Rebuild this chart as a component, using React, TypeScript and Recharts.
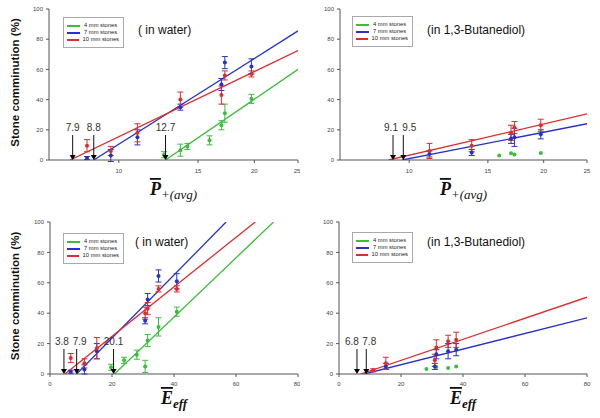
import React from 'react';
import { ComposedChart, XAxis, YAxis, Line, Scatter, ErrorBar, Legend } from 'recharts';

const SIZES = ['4 mm stones', '7 mm stones', '10 mm stones'];
const COLORS = ['#3cbd3c', '#2632c8', '#dd2c2c'];
const FONT = 'Liberation Sans, Arial, sans-serif';
const Y_TICKS = [0, 20, 40, 60, 80, 100];
const P_TICKS = [10, 15, 20, 25];
const E_TICKS = [0, 20, 40, 60, 80];

// P+(avg), in water
const pWaterX4 = [12.6, 13.7, 14.2, 15.9, 16.9, 17.2, 19.7];
const pWaterY4 = [3.5, 6.5, 9, 13, 23, 31, 40.5];
const pWaterE4 = [2, 4, 2, 3, 3, 6, 3];
const pWaterX = [8.5, 9.6, 11.0, 13.7, 16.9, 17.2, 19.7];
const pWaterY7 = [1.3, 3, 15, 35, 50, 64.5, 62];
const pWaterE7 = [1, 4, 5, 2, 4, 4, 5];
const pWaterY10 = [9.5, 6, 18, 40, 43, 56, 57];
const pWaterE10 = [4, 3, 6, 5, 6, 3, 2];
const pWaterFit4 = [[12.7, 0], [25, 60]];
const pWaterFit7 = [[8.8, 0], [25, 85.5]];
const pWaterFit10 = [[7.8, 0], [25, 72.5]];
const pWaterArrows = [7.9, 8.8, 12.7];
const pWaterArrowLabels = ['7.9', '8.8', '12.7'];

// P+(avg), in 1,3-Butanediol
const pButX4 = [15.9, 16.9, 17.2, 19.7];
const pButY4 = [3, 4.5, 3.7, 4.6];
const pButE4 = [0, 0, 0, 0];
const pButX = [11.1, 13.8, 16.9, 17.2, 19.7];
const pButY7 = [4, 5, 14, 15, 17];
const pButE7 = [2, 2, 3, 6, 3];
const pButY10 = [6, 9.5, 18, 21.5, 23];
const pButE10 = [5, 4, 5, 4, 4];
const pButFit7 = [[9.65, 0], [25, 24]];
const pButFit10 = [[9.0, 0], [25, 30.5]];
const pButArrows = [9.2, 9.7];
const pButArrowLabels = ['9.1', '9.5'];

// E_eff, in water
const eWaterX4 = [19.7, 23.9, 28.0, 30.7, 31.5, 35.0, 40.9];
const eWaterY4 = [4.4, 9, 12.7, 5, 22, 31, 41];
const eWaterE4 = [2, 2, 3, 4, 4, 6, 3];
const eWaterX = [6.7, 11.1, 15.1, 30.7, 31.5, 35.0, 40.9];
const eWaterY7 = [1.5, 3, 15, 35, 49, 64.5, 61];
const eWaterE7 = [1, 3, 5, 2, 4, 4, 5];
const eWaterY10 = [10.5, 7, 17, 40, 43, 56, 56];
const eWaterE10 = [3, 3, 7, 4, 4, 2, 2];
const eWaterFit4 = [[20.8, 0], [72.1, 100]];
const eWaterFit7 = [[8.6, 0], [56.8, 100]];
const eWaterFit10 = [[4.8, 0], [66.2, 100]];
const eWaterArrows = [4.5, 8.6, 20.5];
const eWaterArrowLabels = ['3.8', '7.9', '20.1'];

// E_eff, in 1,3-Butanediol
const eButX4 = [28.2, 31.4, 35.2, 37.8];
const eButY4 = [3.3, 4.6, 4, 5];
const eButE4 = [0, 0, 0, 0];
const eButX7 = [15.1, 30.9, 31.4, 35.2, 37.8];
const eButY7 = [5, 5, 13, 15, 16];
const eButE7 = [2, 2, 3, 5, 4];
const eButX10 = [11.0, 15.1, 30.9, 31.4, 35.2, 37.8];
const eButY10 = [2.4, 7, 9, 17.5, 21.5, 22.5];
const eButE10 = [1, 4, 4, 5, 4, 5];
const eButFit7 = [[8.2, 0], [80, 37]];
const eButFit10 = [[7.0, 0], [80, 50.5]];
const eButArrows = [5.8, 8.8];
const eButArrowLabels = ['6.8', '7.8'];

type Pt = { x: number; y: number; e?: number; label?: string; dx?: number };

const toPts = (xs: number[], ys: number[], es: number[]): Pt[] =>
  xs.map((x, i) => ({ x, y: ys[i], e: es[i] }));
const toFit = (ends: number[][]): Pt[] => ends.map(([x, y]) => ({ x, y }));
// labels of neighbouring arrows are nudged apart (dx, in px) so they don't collide
const toArrows = (xs: number[], labels: string[], nudge: number[]): Pt[] =>
  xs.map((x, i) => ({ x, y: 0, label: labels[i], dx: nudge[i] }));

const dotShape = (color: string) => (props: any) =>
  props.cx == null ? null : <circle cx={props.cx} cy={props.cy} r={2} fill={color} />;

const Arrow = (props: any) => {
  const { cx, cy, payload } = props;
  if (cx == null) return null;
  return (
    <g>
      <line x1={cx} y1={cy - 25} x2={cx} y2={cy - 4} stroke="#111" strokeWidth={1} />
      <polygon points={`${cx - 3},${cy - 5} ${cx + 3},${cy - 5} ${cx},${cy}`} fill="#000" />
      <text x={cx + (payload.dx || 0)} y={cy - 29} textAnchor="middle" fontSize={10} fill="#333" fontFamily={FONT}>
        {payload.label}
      </text>
    </g>
  );
};

const XLabel = ({ viewBox, kind, dy }: any) => {
  const cx = viewBox.x + viewBox.width / 2;
  const y = viewBox.y + dy;
  return (
    <text x={cx} y={y} textAnchor="middle" fontFamily="Liberation Serif, serif" fontStyle="italic" fill="#111">
      <tspan fontSize={18} fontWeight="bold" textDecoration="overline">
        {kind === 'P' ? 'P' : 'E'}
      </tspan>
      {kind === 'P' ? (
        <tspan fontSize={13} dy={4}>+(avg)</tspan>
      ) : (
        <tspan fontSize={13} fontWeight="bold" dy={4}>eff</tspan>
      )}
    </text>
  );
};

const YLabel = ({ viewBox }: any) => {
  const y = viewBox.y + viewBox.height / 2 - 2;
  return (
    <text x={19} y={y} transform={`rotate(-90 19 ${y})`} textAnchor="middle" fontSize={11.5}
      fontWeight="bold" fontFamily={FONT} fill="#111">
      Stone comminution (%)
    </text>
  );
};

const LegendBox = () => (
  <div style={{ border: '1px solid #aaa', background: '#fff', padding: '4px 4px 4px 3px', width: 52,
    fontFamily: FONT, fontSize: 5.8, color: '#222', lineHeight: '7px' }}>
    {SIZES.map((s, i) => (
      <div key={s} style={{ display: 'flex', alignItems: 'center', whiteSpace: 'nowrap', height: 7 }}>
        <span style={{ display: 'inline-block', width: 13, height: 2, background: COLORS[i], marginRight: 4 }} />
        {s}
      </div>
    ))}
  </div>
);

type PanelProps = {
  left: number; top: number; width: number; height: number;
  margin: { top: number; right: number; left: number; bottom: number };
  yWidth: number; xHeight: number;
  log: boolean; domain: [number, number]; ticks: number[];
  points: Pt[][]; fits: (Pt[] | null)[]; arrows: Pt[];
  title: string; titleX: number; titleY: number;
  legendX: number; legendY: number;
  xLabel: 'P' | 'E'; xLabelDy: number; tickMargin: number; yLabel: boolean;
};

const Panel = (p: PanelProps) => (
  <div style={{ position: 'absolute', left: p.left, top: p.top, width: p.width, height: p.height }}>
    <ComposedChart width={p.width} height={p.height} margin={p.margin}>
      <XAxis type="number" dataKey="x" scale={p.log ? 'log' : 'linear'} domain={p.domain} ticks={p.ticks}
        allowDataOverflow height={p.xHeight} stroke="#555" tickSize={3} tickMargin={p.tickMargin}
        tick={{ fontSize: 6, fill: '#444', fontFamily: FONT }}
        label={{ content: (lp: any) => <XLabel viewBox={lp.viewBox} kind={p.xLabel} dy={p.xLabelDy} /> }} />
      <YAxis type="number" dataKey="y" domain={[0, 100]} ticks={Y_TICKS} allowDataOverflow width={p.yWidth}
        stroke="#555" tickSize={3} tickMargin={3} tick={{ fontSize: 6, fill: '#444', fontFamily: FONT }}
        label={p.yLabel ? { content: (lp: any) => <YLabel viewBox={lp.viewBox} /> } : undefined} />
      <Legend layout="horizontal" verticalAlign="middle" align="center"
        wrapperStyle={{ left: p.legendX, top: p.legendY, width: 62 }} content={() => <LegendBox />} />
      {p.fits.map((f, i) => f ? (
        <Line key={'fit' + i} data={f} dataKey="y" stroke={COLORS[i]} strokeWidth={1.3} dot={false}
          activeDot={false} isAnimationActive={false} legendType="none" />
      ) : null)}
      {p.points.map((pts, i) => (
        <Scatter key={'pts' + i} data={pts} dataKey="y" fill={COLORS[i]} shape={dotShape(COLORS[i])}
          isAnimationActive={false}>
          <ErrorBar dataKey="e" direction="y" width={3} stroke={COLORS[i]} strokeWidth={1} />
        </Scatter>
      ))}
      <Scatter data={p.arrows} dataKey="y" shape={Arrow} isAnimationActive={false} />
    </ComposedChart>
    <div style={{ position: 'absolute', left: p.titleX, top: p.titleY, fontFamily: FONT, fontSize: 12,
      color: '#111', whiteSpace: 'nowrap', lineHeight: '12px' }}>{p.title}</div>
  </div>
);

export default function App() {
  return (
    <div style={{ position: 'absolute', left: 0, top: 0, width: 600, height: 418, background: '#fff' }}>
      <Panel left={0} top={0} width={300} height={205} margin={{ top: 9, right: 2, left: 0, bottom: 0 }}
        yWidth={49} xHeight={45} log domain={[7, 25]} ticks={P_TICKS}
        points={[toPts(pWaterX4, pWaterY4, pWaterE4), toPts(pWaterX, pWaterY7, pWaterE7), toPts(pWaterX, pWaterY10, pWaterE10)]}
        fits={[toFit(pWaterFit4), toFit(pWaterFit7), toFit(pWaterFit10)]}
        arrows={toArrows(pWaterArrows, pWaterArrowLabels, [0, 0, 0])}
        title="( in water)" titleX={138} titleY={24} legendX={63} legendY={17}
        xLabel="P" xLabelDy={35} tickMargin={6} yLabel />
      <Panel left={300} top={0} width={300} height={205} margin={{ top: 9, right: 13, left: 0, bottom: 0 }}
        yWidth={40} xHeight={45} log domain={[7, 25]} ticks={P_TICKS}
        points={[toPts(pButX4, pButY4, pButE4), toPts(pButX, pButY7, pButE7), toPts(pButX, pButY10, pButE10)]}
        fits={[null, toFit(pButFit7), toFit(pButFit10)]}
        arrows={toArrows(pButArrows, pButArrowLabels, [-2, 6])}
        title="(in 1,3-Butanediol)" titleX={127} titleY={24} legendX={52} legendY={16}
        xLabel="P" xLabelDy={35} tickMargin={6} yLabel={false} />
      <Panel left={0} top={205} width={300} height={213} margin={{ top: 17, right: 2, left: 0, bottom: 0 }}
        yWidth={50} xHeight={44} log={false} domain={[0, 80]} ticks={E_TICKS}
        points={[toPts(eWaterX4, eWaterY4, eWaterE4), toPts(eWaterX, eWaterY7, eWaterE7), toPts(eWaterX, eWaterY10, eWaterE10)]}
        fits={[toFit(eWaterFit4), toFit(eWaterFit7), toFit(eWaterFit10)]}
        arrows={toArrows(eWaterArrows, eWaterArrowLabels, [-2, 3, 0])}
        title="( in water)" titleX={135} titleY={31} legendX={63} legendY={28}
        xLabel="E" xLabelDy={30} tickMargin={5} yLabel />
      <Panel left={300} top={205} width={300} height={213} margin={{ top: 17, right: 13, left: 0, bottom: 0 }}
        yWidth={39} xHeight={44} log={false} domain={[0, 80]} ticks={E_TICKS}
        points={[toPts(eButX4, eButY4, eButE4), toPts(eButX7, eButY7, eButE7), toPts(eButX10, eButY10, eButE10)]}
        fits={[null, toFit(eButFit7), toFit(eButFit10)]}
        arrows={toArrows(eButArrows, eButArrowLabels, [-5, 3])}
        title="(in 1,3-Butanediol)" titleX={127} titleY={31} legendX={52} legendY={27}
        xLabel="E" xLabelDy={30} tickMargin={5} yLabel={false} />
    </div>
  );
}
